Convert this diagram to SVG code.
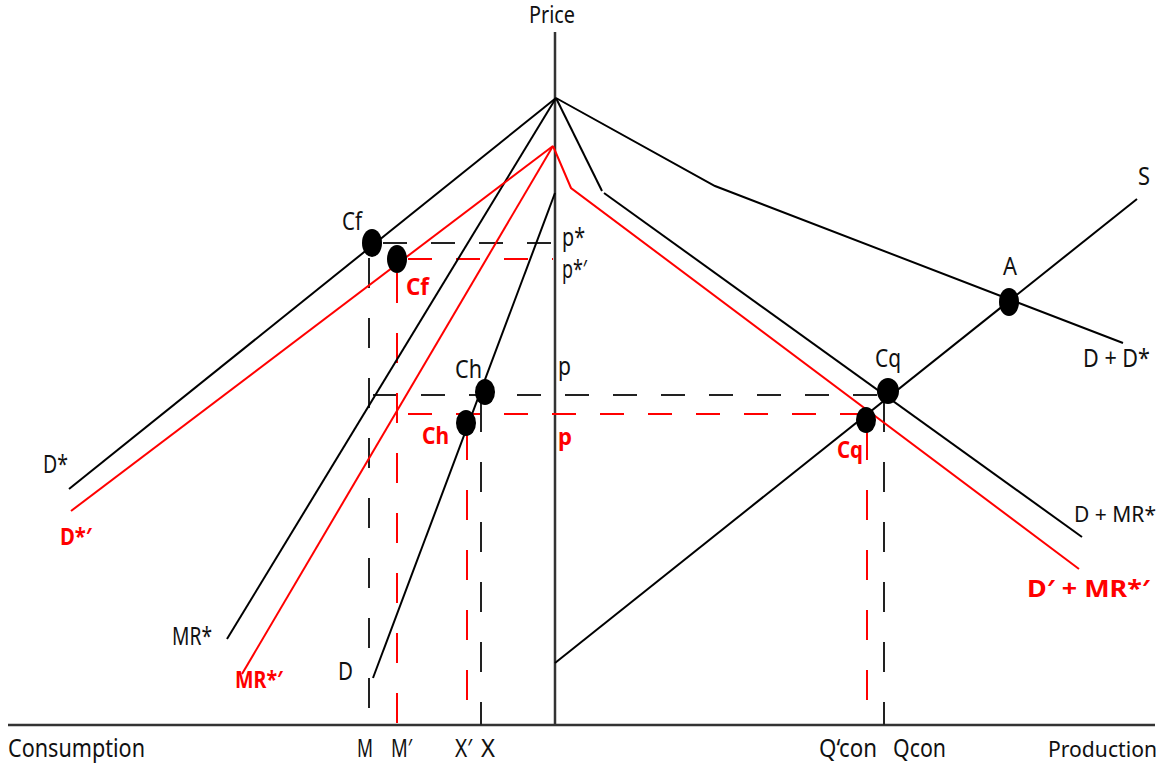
<svg xmlns="http://www.w3.org/2000/svg" width="1167" height="769" viewBox="0 0 1167 769">
<style>
text{font-family:"Noto Sans","Open Sans","DejaVu Sans",sans-serif;font-size:25px;fill:#111}
.r{fill:#f00;font-weight:bold;font-size:24px}
.bl{fill:none;stroke:#000;stroke-width:2}
.rl{fill:none;stroke:#f00;stroke-width:2}
.ax{fill:none;stroke:#333;stroke-width:2.5}
.hd{fill:none;stroke:#222;stroke-width:2;stroke-dasharray:24 24}
.hr{fill:none;stroke:#f00;stroke-width:2;stroke-dasharray:24 24}
.vd{fill:none;stroke:#222;stroke-width:2;stroke-dasharray:30 30}
.vr{fill:none;stroke:#f00;stroke-width:2;stroke-dasharray:30 30}
.dot{fill:#000}
</style>
<rect width="1167" height="769" fill="#fff"/>
<g id="axes">
<line class="ax" x1="8" y1="725" x2="1155" y2="725"/>
<line class="ax" x1="555" y1="32" x2="555" y2="725"/>
</g>
<g id="connectors">
<line class="hd" x1="383" y1="243" x2="555" y2="243"/>
<line class="hr" x1="408" y1="259" x2="553" y2="259"/>
<line class="hd" x1="373" y1="395" x2="885" y2="395"/>
<line class="hr" x1="408" y1="414" x2="866" y2="414"/>
<line class="vd" x1="369" y1="258" x2="369" y2="725"/>
<line class="vr" x1="397" y1="273" x2="397" y2="725"/>
<line class="vr" x1="467" y1="430" x2="467" y2="725"/>
<line class="vd" x1="481" y1="402" x2="481" y2="725"/>
<line class="vr" x1="867" y1="430" x2="867" y2="725"/>
<line class="vd" x1="884" y1="402" x2="884" y2="725"/>
<line id="Dstar" class="bl" x1="556" y1="98" x2="69" y2="489"/>
<line id="MRstar" class="bl" x1="556" y1="98" x2="227" y2="639"/>
<polyline id="DplusDstar" class="bl" points="556,98 715,186 1123,343"/>
<line class="bl" x1="556" y1="98" x2="602" y2="191"/>
<line id="DplusMR" class="bl" x1="604" y1="193" x2="1082" y2="537"/>
<line id="D" class="bl" x1="555" y1="193" x2="373" y2="678"/>
<line id="S" class="bl" x1="555" y1="663" x2="1137" y2="199"/>
<line id="Dstar2" class="rl" x1="553" y1="146" x2="71" y2="511"/>
<line id="MRstar2" class="rl" x1="553" y1="146" x2="242" y2="674"/>
<polyline id="DplusMR2" class="rl" points="553,146 571,188 1079,569"/>
</g>
<g id="node-Cf"><ellipse class="dot" cx="372" cy="243" rx="10" ry="14"/><text x="342" y="230" textLength="20" lengthAdjust="spacingAndGlyphs">Cf</text></g>
<g id="node-Cf2"><ellipse class="dot" cx="397" cy="259" rx="10" ry="14"/><text class="r" x="406" y="295" textLength="23" lengthAdjust="spacingAndGlyphs">Cf</text></g>
<g id="node-Ch"><ellipse class="dot" cx="485" cy="392" rx="10" ry="13"/><text x="455" y="378" textLength="27" lengthAdjust="spacingAndGlyphs">Ch</text></g>
<g id="node-Ch2"><ellipse class="dot" cx="466" cy="423" rx="10" ry="13"/><text class="r" x="422" y="444" textLength="27" lengthAdjust="spacingAndGlyphs">Ch</text></g>
<g id="node-Cq"><ellipse class="dot" cx="888" cy="391" rx="11" ry="13"/><text x="875" y="367" textLength="26" lengthAdjust="spacingAndGlyphs">Cq</text></g>
<g id="node-Cq2"><ellipse class="dot" cx="866" cy="420" rx="10" ry="13"/><text class="r" x="837" y="458" textLength="26" lengthAdjust="spacingAndGlyphs">Cq</text></g>
<g id="node-A"><ellipse class="dot" cx="1009" cy="302" rx="10" ry="14"/><text x="1003" y="275" textLength="14" lengthAdjust="spacingAndGlyphs">A</text></g>
<g id="labels">
<text x="529" y="23" style="font-size:23px" textLength="46" lengthAdjust="spacingAndGlyphs">Price</text>
<text x="562" y="246" textLength="23" lengthAdjust="spacingAndGlyphs">p*</text>
<text x="562" y="278" textLength="25" lengthAdjust="spacingAndGlyphs">p*′</text>
<text x="558" y="375" textLength="13" lengthAdjust="spacingAndGlyphs">p</text>
<text class="r" x="558" y="445" textLength="14" lengthAdjust="spacingAndGlyphs">p</text>
<text x="1138" y="185" textLength="12" lengthAdjust="spacingAndGlyphs">S</text>
<text x="1083" y="367" textLength="67" lengthAdjust="spacingAndGlyphs">D + D*</text>
<text x="1074" y="522" style="font-size:22px" textLength="82" lengthAdjust="spacingAndGlyphs">D + MR*</text>
<text class="r" x="1027" y="597" textLength="123" lengthAdjust="spacingAndGlyphs">D′ + MR*′</text>
<text x="43" y="473" textLength="25" lengthAdjust="spacingAndGlyphs">D*</text>
<text class="r" x="60" y="545" textLength="32" lengthAdjust="spacingAndGlyphs">D*′</text>
<text x="172" y="645" textLength="40" lengthAdjust="spacingAndGlyphs">MR*</text>
<text class="r" x="235" y="688" textLength="48" lengthAdjust="spacingAndGlyphs">MR*′</text>
<text x="338" y="680" textLength="15" lengthAdjust="spacingAndGlyphs">D</text>
<text x="8" y="757" textLength="137" lengthAdjust="spacingAndGlyphs">Consumption</text>
<text x="357" y="757" textLength="16" lengthAdjust="spacingAndGlyphs">M</text>
<text x="391" y="757" textLength="21" lengthAdjust="spacingAndGlyphs">M′</text>
<text x="455" y="757" textLength="17" lengthAdjust="spacingAndGlyphs">X′</text>
<text x="481" y="757" textLength="14" lengthAdjust="spacingAndGlyphs">X</text>
<text x="819" y="757" textLength="58" lengthAdjust="spacingAndGlyphs">Q‘con</text>
<text x="893" y="757" textLength="53" lengthAdjust="spacingAndGlyphs">Qcon</text>
<text x="1048" y="757" style="font-size:21px" textLength="109" lengthAdjust="spacingAndGlyphs">Production</text>
</g>
</svg>
